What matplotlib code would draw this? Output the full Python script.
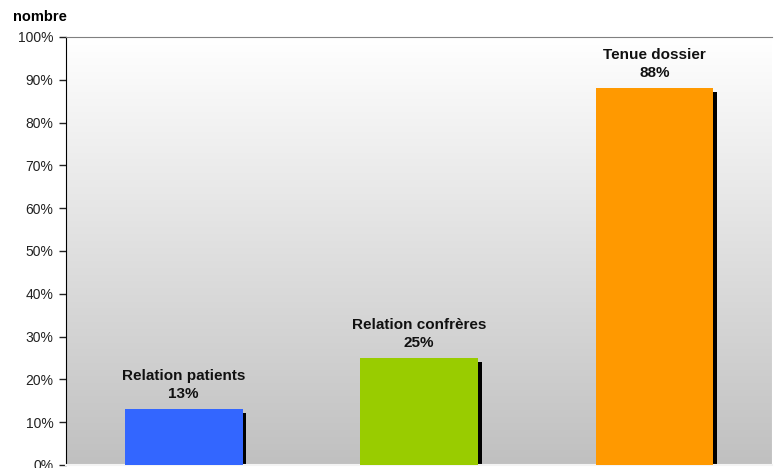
import numpy as np
import matplotlib.pyplot as plt
from matplotlib import transforms
from matplotlib.colors import LinearSegmentedColormap
from matplotlib.ticker import FuncFormatter

plt.rcParams['font.family'] = ['Liberation Sans', 'DejaVu Sans']

# data
categories = ["Relation patients", "Relation confrères", "Tenue dossier"]
values = [13, 25, 88]
colors = ["#3366ff", "#99cc00", "#ff9900"]

fig = plt.figure(figsize=(7.74, 4.68), dpi=100)
ax = fig.add_axes([66 / 774, 3 / 468, 706 / 774, 428 / 468])

x = np.arange(len(categories))
ax.set_xlim(-0.5, len(categories) - 0.5)
ax.set_ylim(0, 100)

# gradient background, white on top to grey at the bottom
grad = np.linspace(0, 1, 256).reshape(-1, 1)
bg = LinearSegmentedColormap.from_list('bg', ['#c0c0c0', '#ffffff'])
ax.imshow(grad, extent=(-0.5, len(categories) - 0.5, 0, 100), aspect='auto',
          cmap=bg, origin='lower', zorder=0)

# drop shadow behind the bars
shadow = transforms.offset_copy(ax.transData, fig=fig, x=4, y=-4, units='dots')
ax.bar(x, values, width=0.5, color='black', transform=shadow, zorder=2)
ax.bar(x, values, width=0.5, color=colors, zorder=3)

for xi, v, name in zip(x, values, categories):
    ax.annotate("{}\n{}%".format(name, v), (xi, v), xytext=(0, 6),
                textcoords='offset points', ha='center', va='bottom',
                fontsize=11, fontweight='bold', color='#111111',
                linespacing=1.35)

ax.set_yticks(range(0, 101, 10))
ax.yaxis.set_major_formatter(FuncFormatter(lambda v, p: "{:d}%".format(int(v))))
ax.tick_params(axis='y', labelsize=10, length=5, width=1, colors='#222222',
               pad=4)
ax.tick_params(axis='x', bottom=False, labelbottom=False)

ax.spines['left'].set_color('black')
ax.spines['top'].set_color('#808080')
ax.spines['right'].set_color('#ffffff')
ax.spines['bottom'].set_color('#f4f4f4')
ax.spines['bottom'].set_linewidth(1.5)

fig.text(13 / 774, 1 - 17 / 468, "nombre", fontsize=10.5, fontweight='bold',
         va='center', ha='left')

fig.savefig("out.png", dpi=100)
